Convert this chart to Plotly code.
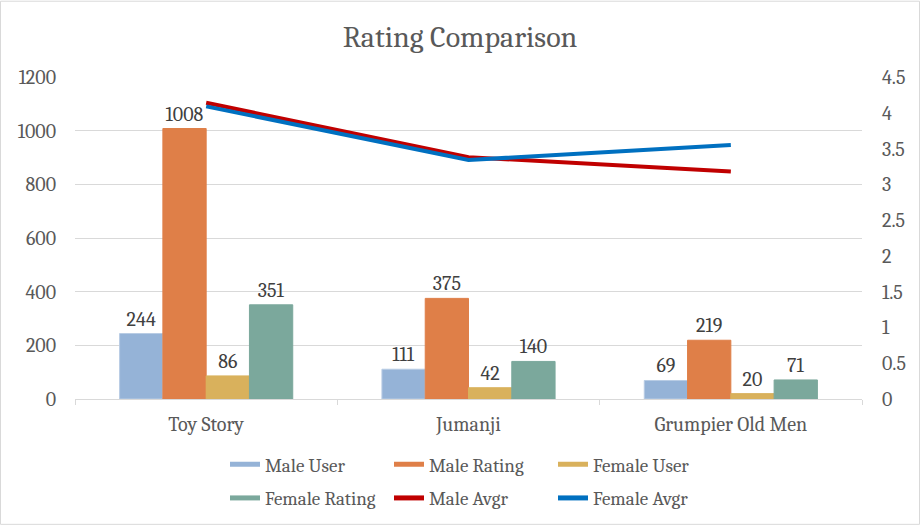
import plotly.graph_objects as go

categories = ["Toy Story", "Jumanji", "Grumpier Old Men"]
male_user = [244, 111, 69]
male_rating = [1008, 375, 219]
female_user = [86, 42, 20]
female_rating = [351, 140, 71]
male_avgr = [4.14, 3.38, 3.18]
female_avgr = [4.09, 3.34, 3.55]
left_ticks = [0, 200, 400, 600, 800, 1000, 1200]
right_ticks = [0, 0.5, 1, 1.5, 2, 2.5, 3, 3.5, 4, 4.5]

FONT = "Cambria, Caladea, DejaVu Serif, serif"
TXT = "#595959"
LBL = "#404040"

W, H = 920, 529
ML, MR, MT, MB = 75, 58, 77, 127
PW, PH = W - ML - MR, H - MT - MB

def px_x(p):
    return (p - ML) / PW

def px_y(p):
    return (H - MB - p) / PH

fig = go.Figure()
bar_specs = [
    ("Male User", male_user, "#95B3D7", "#B8CCE4"),
    ("Male Rating", male_rating, "#DF7F48", "#DF7F48"),
    ("Female User", female_user, "#D9B15C", "#D9B15C"),
    ("Female Rating", female_rating, "#7BA89C", "#7BA89C"),
]
for i, (name, vals, col, lc) in enumerate(bar_specs):
    fig.add_trace(go.Bar(
        x=categories, y=vals, name=name,
        marker=dict(color=col, line=dict(color=lc, width=1)),
        text=[str(v) for v in vals], textposition="outside",
        textfont=dict(family=FONT, size=20, color=LBL),
        cliponaxis=False, showlegend=False,
    ))

fig.add_trace(go.Scatter(
    x=categories, y=male_avgr, name="Male Avgr", mode="lines",
    line=dict(color="#C00000", width=4), yaxis="y2", showlegend=False,
))
fig.add_trace(go.Scatter(
    x=categories, y=female_avgr, name="Female Avgr", mode="lines",
    line=dict(color="#0070C0", width=4), yaxis="y2", showlegend=False,
))

# legend entries (Excel-style wide swatches)
legend_items = [
    ("Male User", "#95B3D7", 12, "legend"),
    ("Male Rating", "#DF7F48", 12, "legend"),
    ("Female User", "#D9B15C", 12, "legend"),
    ("Female Rating", "#7BA89C", 12, "legend2"),
    ("Male Avgr", "#C00000", 4, "legend2"),
    ("Female Avgr", "#0070C0", 4, "legend2"),
]
for name, col, w, lg in legend_items:
    fig.add_trace(go.Scatter(
        x=[None], y=[None], name=name, mode="lines",
        line=dict(color=col, width=w), legend=lg, hoverinfo="skip",
    ))

legend_common = dict(
    orientation="h", xanchor="left", yanchor="middle",
    font=dict(family=FONT, size=19, color=TXT),
    entrywidth=119, entrywidthmode="pixels",
    bgcolor="rgba(0,0,0,0)", itemsizing="constant",
    tracegroupgap=0,
)

fig.update_layout(
    width=W, height=H,
    margin=dict(l=ML, r=MR, t=MT, b=MB),
    paper_bgcolor="white", plot_bgcolor="white",
    font=dict(family=FONT, color=TXT),
    title=dict(text="Rating Comparison", x=0.5, xanchor="center",
               y=1 - 36 / H, yanchor="middle",
               font=dict(family=FONT, size=30, color=TXT)),
    barmode="group", bargap=0.34, bargroupgap=0,
    showlegend=True,
    legend=dict(x=px_x(225), y=px_y(468), **legend_common),
    legend2=dict(x=px_x(225), y=px_y(502), **legend_common),
    xaxis=dict(
        showline=True, linecolor="#D9D9D9", linewidth=1,
        ticks="outside", tickson="boundaries", tickcolor="#D9D9D9", ticklen=5,
        tickfont=dict(family=FONT, size=20, color=TXT),
        ticklabelstandoff=7,
        showgrid=False, automargin=False,
    ),
    yaxis=dict(
        range=[0, 1200], tickvals=left_ticks,
        showgrid=True, gridcolor="#D9D9D9", gridwidth=1,
        zeroline=False, showline=False,
        tickfont=dict(family=FONT, size=20, color=TXT),
        ticks="", ticklabelstandoff=18, automargin=False,
    ),
    yaxis2=dict(
        range=[0, 4.5], tickvals=right_ticks, overlaying="y", side="right",
        showgrid=False, zeroline=False, showline=False,
        tickfont=dict(family=FONT, size=20, color=TXT),
        ticks="", ticklabelstandoff=19, automargin=False,
    ),
    shapes=[dict(type="rect", xref="paper", yref="paper",
                 x0=px_x(0.5), x1=px_x(W - 0.5), y0=px_y(H - 0.5), y1=px_y(0.5),
                 line=dict(color="#D9D9D9", width=1), layer="below")],
)

fig.write_html("out.html", config={"displayModeBar": False},
               post_script="document.body.style.margin='0px';")
